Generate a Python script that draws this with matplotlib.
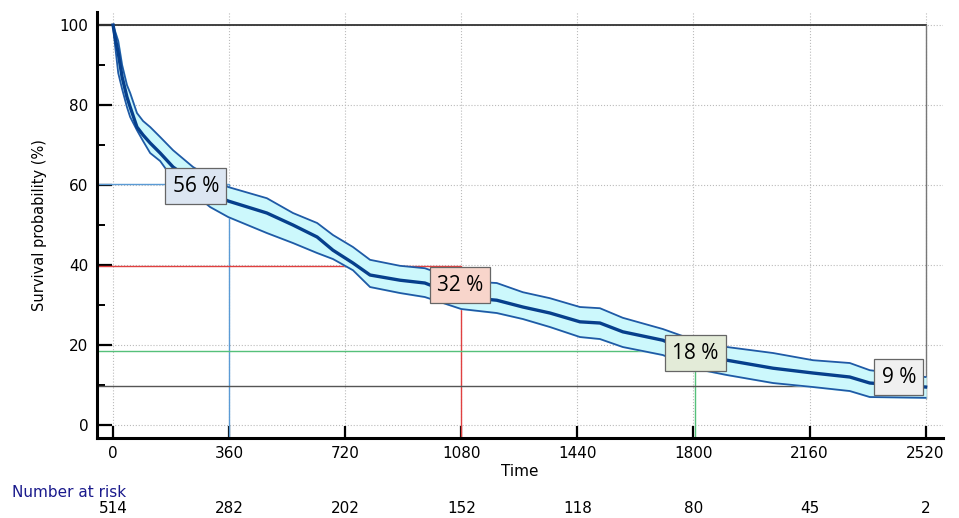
"""
Kaplan-Meier survival curve with confidence band and number at risk
"""

import matplotlib.pyplot as plt
import matplotlib.transforms as mtransforms
import numpy as np

#---------------------------------------------------------------------------------------------------
# Data
#---------------------------------------------------------------------------------------------------

time = [0, 6, 16, 28, 43, 53, 74, 93, 115, 146, 186, 248, 301, 357, 477, 558, 633, 682, 744,
        797, 890, 967, 1080, 1190, 1271, 1355, 1448, 1510, 1581, 1705, 1810, 1904, 2047, 2171,
        2285, 2347, 2520]
surv = [100, 97, 93, 87, 82, 79.5, 74.5, 72.5, 70.5, 68, 64.5, 61, 58, 56, 53, 50, 47, 43.7,
        40.5, 37.5, 36.2, 35.5, 32, 31.2, 29.5, 28, 25.8, 25.5, 23.3, 21.2, 17.5, 16.2, 14.2,
        13, 12, 10.5, 9.5]
upper = [100, 98.5, 96, 90, 85, 83, 78, 76, 74.5, 72, 68.7, 64.5, 62, 59.5, 56.7, 53, 50.5,
         47.5, 44.5, 41.3, 39.8, 39.2, 36, 35.5, 33.2, 31.7, 29.5, 29.2, 26.8, 24, 21, 19.5, 18,
         16.2, 15.5, 13.7, 12]
lower = [100, 95, 88, 84, 79.5, 77, 73.7, 71, 68, 66, 61.5, 58, 54.5, 52, 48, 45.5, 43, 41.5,
         38.7, 34.5, 33, 32, 29, 28, 26.5, 24.5, 22, 21.5, 19.5, 17.5, 14, 12.5, 10.5, 9.5, 8.5,
         7, 6.8]

# reference lines: (time, level, colour) and the box labels
ref_time = [360, 1080, 1805]
ref_level = [60.2, 39.8, 18.5]
ref_color = ['#5b9bd5', '#e04040', '#55c07a']
final_level = 9.75

label_text = ['56 %', '32 %', '18 %', '9 %']
label_x = [257, 1076, 1805, 2437]
label_y = [59.7, 35, 18, 12]
label_face = ['#dce6f2', '#f8d5cb', '#e3ebd8', '#f0f0f0']

risk_times = [0, 360, 720, 1080, 1440, 1800, 2160, 2520]
n_at_risk = [514, 282, 202, 152, 118, 80, 45, 2]

#---------------------------------------------------------------------------------------------------
# Plot
#---------------------------------------------------------------------------------------------------

plt.rcParams['font.family'] = ['DejaVu Sans']

xmin, xmax = -50, 2574
ymin, ymax = -3.25, 103.25

fig = plt.figure(figsize=(9.59, 5.18), dpi=100)
ax = fig.add_axes([0.1011, 0.1544, 0.8822, 0.8224])

ax.set_xlim(xmin, xmax)
ax.set_ylim(ymin, ymax)

# grid
for t in risk_times:
    ax.plot([t, t], [ymin, ymax], color='#bbbbbb', lw=0.8, ls=':', zorder=1)
for yv in range(0, 101, 20):
    ax.plot([xmin, xmax], [yv, yv], color='#bbbbbb', lw=0.8, ls=':', zorder=1)

# frame lines at 100 and 2520
ax.plot([xmin, 2520], [100, 100], color='#333333', lw=1.3, zorder=2)
ax.plot([2520, 2520], [100, lower[-1]], color='#777777', lw=1.0, zorder=2)

# reference lines
for t, lv, c in zip(ref_time, ref_level, ref_color):
    ax.plot([xmin, t, t], [lv, lv, ymin], color=c, lw=1.0, zorder=2)
ax.plot([xmin, 2520], [final_level, final_level], color='#555555', lw=1.0, zorder=2)

# survival curve + CI band
ax.fill_between(time, lower, upper, color='#ccf8fc', zorder=3)
ax.plot(time, upper, color='#1f5aa6', lw=1.3, zorder=4)
ax.plot(time, lower, color='#1f5aa6', lw=1.3, zorder=4)
ax.plot(time, surv, color='#063f8c', lw=2.4, zorder=5)

# percentage boxes
for txt, x, y, fc in zip(label_text, label_x, label_y, label_face):
    ax.text(x, y, txt, ha='center', va='center', fontsize=15, family=['Open Sans', 'DejaVu Sans'],
            zorder=6, bbox=dict(boxstyle='square,pad=0.35', fc=fc, ec='#666666', lw=0.9))

# axes styling
for side in ['top', 'right']:
    ax.spines[side].set_visible(False)
for side in ['left', 'bottom']:
    ax.spines[side].set_linewidth(2.2)
    ax.spines[side].set_zorder(7)

ax.set_xticks(risk_times)
ax.set_yticks(range(0, 101, 20))
ax.set_yticks(range(10, 100, 20), minor=True)
ax.tick_params(axis='x', direction='in', length=8.5, width=1.6, labelsize=11, pad=6)
ax.tick_params(axis='y', which='major', direction='in', length=11, width=1.6, labelsize=11, pad=6)
ax.tick_params(axis='y', which='minor', direction='in', length=6, width=1.4)

ax.set_xlabel('Time', fontsize=11, labelpad=2)
ax.set_ylabel('Survival probability (%)', fontsize=10.5, labelpad=9)

# number at risk
fig.text(0.0125, 0.050, 'Number at risk', color='#1a1a8c', fontsize=11, va='center')
trans = mtransforms.blended_transform_factory(ax.transData, fig.transFigure)
for t, n in zip(risk_times, n_at_risk):
    ax.text(t, 0.0193, str(n), transform=trans, ha='center', va='center', fontsize=11,
            clip_on=False)

plt.savefig('out.png', dpi=100)
